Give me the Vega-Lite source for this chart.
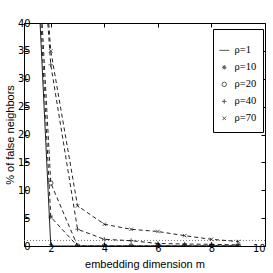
{
  "$schema": "https://vega.github.io/schema/vega-lite/v6.json",
  "width": 241,
  "height": 223,
  "autosize": "none",
  "padding": {"left": 24, "top": 23, "right": 8, "bottom": 27},
  "background": "white",
  "config": {
    "view": {"stroke": "#000", "strokeWidth": 1},
    "axis": {
      "domain": false,
      "grid": false,
      "tickColor": "#000",
      "tickSize": -4,
      "labelFont": "Liberation Sans Narrow, DejaVu Sans Condensed, Liberation Sans",
      "labelFontSize": 11,
      "labelColor": "#000",
      "titleFont": "Liberation Sans",
      "titleFontSize": 11,
      "titleFontWeight": "normal",
      "titleColor": "#000"
    }
  },
  "datasets": {
    "fnn": [
      {"series": "ρ=1", "m": 1, "pct": 100},
      {"series": "ρ=1", "m": 2, "pct": 0},
      {"series": "ρ=1", "m": 3, "pct": 0},
      {"series": "ρ=1", "m": 4, "pct": 0},
      {"series": "ρ=1", "m": 5, "pct": 0},
      {"series": "ρ=1", "m": 6, "pct": 0},
      {"series": "ρ=1", "m": 7, "pct": 0},
      {"series": "ρ=1", "m": 8, "pct": 0},
      {"series": "ρ=1", "m": 9, "pct": 0},
      {"series": "ρ=10", "m": 1, "pct": 100},
      {"series": "ρ=10", "m": 2, "pct": 5.2},
      {"series": "ρ=10", "m": 3, "pct": 0},
      {"series": "ρ=10", "m": 4, "pct": 0},
      {"series": "ρ=10", "m": 5, "pct": 0},
      {"series": "ρ=10", "m": 6, "pct": 0},
      {"series": "ρ=10", "m": 7, "pct": 0},
      {"series": "ρ=10", "m": 8, "pct": 0},
      {"series": "ρ=10", "m": 9, "pct": 0},
      {"series": "ρ=20", "m": 1, "pct": 100},
      {"series": "ρ=20", "m": 2, "pct": 11.3},
      {"series": "ρ=20", "m": 3, "pct": 0},
      {"series": "ρ=20", "m": 4, "pct": 0},
      {"series": "ρ=20", "m": 5, "pct": 0},
      {"series": "ρ=20", "m": 6, "pct": 0},
      {"series": "ρ=20", "m": 7, "pct": 0},
      {"series": "ρ=20", "m": 8, "pct": 0},
      {"series": "ρ=20", "m": 9, "pct": 0},
      {"series": "ρ=40", "m": 1, "pct": 100},
      {"series": "ρ=40", "m": 2, "pct": 32.5},
      {"series": "ρ=40", "m": 3, "pct": 3.0},
      {"series": "ρ=40", "m": 4, "pct": 1.2},
      {"series": "ρ=40", "m": 5, "pct": 0.95},
      {"series": "ρ=40", "m": 6, "pct": 0.45},
      {"series": "ρ=40", "m": 7, "pct": 0.35},
      {"series": "ρ=40", "m": 8, "pct": 0.3},
      {"series": "ρ=40", "m": 9, "pct": 0.2},
      {"series": "ρ=70", "m": 1, "pct": 100},
      {"series": "ρ=70", "m": 2, "pct": 35},
      {"series": "ρ=70", "m": 3, "pct": 7.2},
      {"series": "ρ=70", "m": 4, "pct": 3.9},
      {"series": "ρ=70", "m": 5, "pct": 3.0},
      {"series": "ρ=70", "m": 6, "pct": 2.6},
      {"series": "ρ=70", "m": 7, "pct": 1.85},
      {"series": "ρ=70", "m": 8, "pct": 1.2},
      {"series": "ρ=70", "m": 9, "pct": 0.8}
    ],
    "thr": [{"level": 1}]
  },
  "layer": [
    {
      "data": {"name": "thr"},
      "mark": {"type": "rule", "color": "#777", "strokeWidth": 1, "strokeDash": [1, 2]},
      "encoding": {
        "y": {"field": "level", "type": "quantitative", "scale": {"domain": [0, 40], "nice": false, "zero": false}, "axis": null}
      }
    },
    {
      "data": {"name": "fnn"},
      "transform": [{"filter": "datum.series === 'ρ=1'"}],
      "mark": {"type": "line", "clip": true, "color": "#222", "strokeWidth": 1},
      "encoding": {
        "x": {"field": "m", "type": "quantitative", "scale": {"domain": [1, 10], "nice": false, "zero": false},
              "axis": {"orient": "top", "values": [2, 4, 6, 8, 10], "labels": false, "title": null}},
        "y": {"field": "pct", "type": "quantitative", "scale": {"domain": [0, 40], "nice": false, "zero": false},
              "axis": {"orient": "right", "values": [0, 5, 10, 15, 20, 25, 30, 35, 40], "labels": false, "title": null}}
      }
    },
    {
      "data": {"name": "fnn"},
      "transform": [{"filter": "datum.series !== 'ρ=1'"}],
      "mark": {"type": "line", "clip": true, "color": "#222", "strokeWidth": 1, "strokeDash": [4, 3]},
      "encoding": {
        "x": {"field": "m", "type": "quantitative", "axis": null},
        "y": {"field": "pct", "type": "quantitative", "axis": null},
        "detail": {"field": "series"}
      }
    },
    {
      "data": {"name": "fnn"},
      "transform": [{"filter": "datum.series !== 'ρ=1'"}],
      "mark": {"type": "point", "clip": true, "filled": false, "stroke": "#111", "strokeWidth": 1, "size": 20},
      "encoding": {
        "x": {"field": "m", "type": "quantitative", "scale": {"domain": [1, 10], "nice": false, "zero": false},
              "axis": {"orient": "bottom", "values": [2, 4, 6, 8, 10], "title": "embedding dimension m", "labelPadding": 0, "titlePadding": 5}},
        "y": {"field": "pct", "type": "quantitative", "scale": {"domain": [0, 40], "nice": false, "zero": false},
              "axis": {"orient": "left", "values": [0, 5, 10, 15, 20, 25, 30, 35, 40], "title": "% of false neighbors", "labelPadding": -2, "titlePadding": 2}},
        "shape": {
          "field": "series", "type": "nominal",
          "scale": {
            "domain": ["ρ=1", "ρ=10", "ρ=20", "ρ=40", "ρ=70"],
            "range": [
              "M-2.2,0L2.2,0",
              "M-1,0L1,0M0,-1L0,1M-0.7,-0.7L0.7,0.7M-0.7,0.7L0.7,-0.7",
              "circle",
              "M-1,0L1,0M0,-1L0,1",
              "M-0.8,-0.8L0.8,0.8M-0.8,0.8L0.8,-0.8"
            ]
          },
          "legend": {
            "title": " ",
            "titleFontSize": 5,
            "titlePadding": 3,
            "orient": "none",
            "legendX": 189,
            "legendY": 6,
            "padding": 6,
            "strokeColor": "#000",
            "fillColor": "white",
            "labelFont": "Liberation Serif",
            "labelFontSize": 10.5,
            "labelColor": "#000",
            "labelOffset": 5,
            "labelExpr": "datum.label + '   '",
            "symbolStrokeColor": "#111",
            "symbolStrokeWidth": 1,
            "symbolFillColor": "transparent",
            "symbolSize": 20,
            "clipHeight": 14.7,
            "rowPadding": 2
          }
        }
      }
    }
  ],
  "resolve": {"axis": {"x": "independent", "y": "independent"}}
}
